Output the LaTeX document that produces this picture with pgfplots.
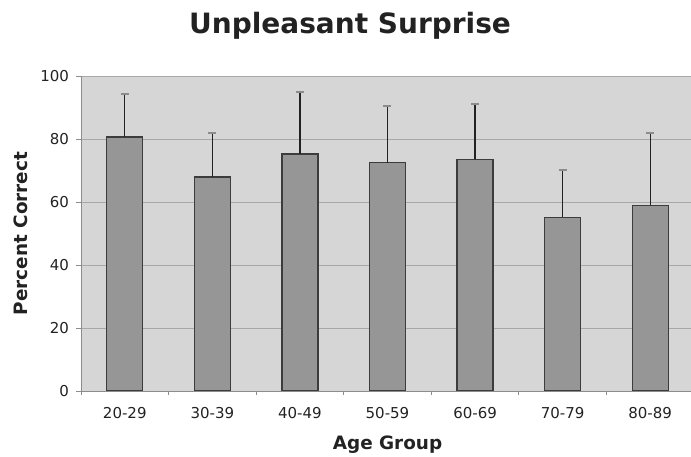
\documentclass[border=0pt]{standalone}
\usepackage{fontspec}
\setmainfont{DejaVu Sans}
\usepackage{pgfplots}
\usepackage{pgfplotstable}
\pgfplotsset{compat=1.18}

\definecolor{plotbg}{HTML}{D6D6D6}
\definecolor{barfill}{HTML}{969696}
\definecolor{baredge}{HTML}{3C3C3C}
\definecolor{gridcol}{HTML}{A8A8A8}
\definecolor{axiscol}{HTML}{8C8C8C}
\definecolor{textcol}{HTML}{222222}

% age group, percent correct, upper error
\pgfplotstableread{
x y err
0 80.6 13.8
1 67.9 13.9
2 75.2 19.6
3 72.5 18.1
4 73.6 17.6
5 55.1 15.2
6 58.9 23.1
}\surprise

\begin{document}
\begin{tikzpicture}[x=1pt,y=1pt]
\path[use as bounding box] (0,0) rectangle (691,457);
\begin{axis}[
    at={(81pt,66pt)}, anchor=south west,
    scale only axis,
    width=610pt, height=315pt,
    xmin=-0.5, xmax=6.466,
    ymin=0, ymax=100,
    axis x line*=bottom,
    axis y line*=left,
    axis line style={draw=axiscol, line width=0.9pt},
    axis background/.style={fill=plotbg},
    xtick={0,...,6},
    xticklabels={20-29,30-39,40-49,50-59,60-69,70-79,80-89},
    minor xtick={-0.5,0.5,...,5.5},
    ytick={0,20,...,100},
    tick align=outside,
    major tick length=4.5pt,
    minor tick length=4.5pt,
    major x tick style={draw=none},
    minor x tick style={draw=axiscol, line width=0.8pt},
    ytick style={draw=axiscol, line width=0.8pt},
    ymajorgrids,
    grid style={draw=gridcol, line width=0.9pt},
    /pgf/number format/assume math mode=true,
    ticklabel style={font=\fontsize{15}{17}\selectfont, text=textcol},
    xticklabel style={anchor=base, yshift=-23pt},
    yticklabel style={anchor=east, xshift=-4pt},
    title={Unpleasant Surprise},
    title style={at={(axis description cs:0.441,1.117)}, anchor=base,
        font=\fontsize{28}{32}\bfseries\selectfont, text=textcol},
    xlabel={Age Group},
    xlabel style={at={(axis description cs:0.5025,-0.185)}, anchor=base,
        font=\fontsize{18.4}{22}\bfseries\selectfont, text=textcol},
    ylabel={Percent Correct},
    ylabel style={at={(axis description cs:-0.087,0.5)}, anchor=base, rotate=0,
        font=\fontsize{18.4}{22}\bfseries\selectfont, text=textcol},
]
\addplot[ybar, bar width=36pt, fill=barfill, draw=baredge, line width=1.3pt,
    error bars/.cd, y dir=plus, y explicit,
    error bar style={draw=textcol, line width=1.4pt},
    error mark options={rotate=90, draw=axiscol, line width=2pt, mark size=4pt}]
    table[x=x, y=y, y error=err] {\surprise};
\end{axis}
\end{tikzpicture}
\end{document}
